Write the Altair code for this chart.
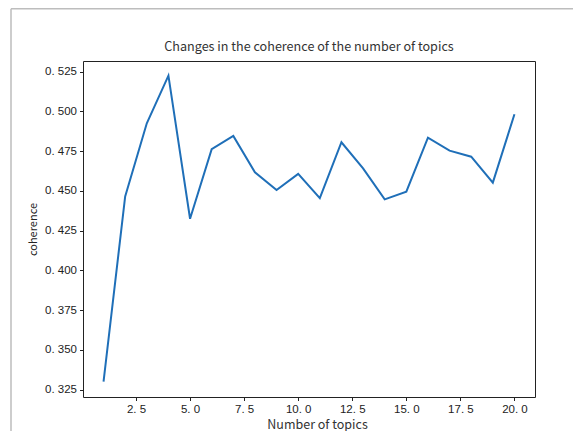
import altair as alt
import pandas as pd

topics = list(range(1, 21))
coherence = [0.3300, 0.4465, 0.4925, 0.5225, 0.4325, 0.4762, 0.4846, 0.4617, 0.4506,
             0.4607, 0.4455, 0.4806, 0.4642, 0.4447, 0.4495, 0.4835, 0.4753, 0.4715,
             0.4552, 0.4982]
y_ticks = [0.325, 0.350, 0.375, 0.400, 0.425, 0.450, 0.475, 0.500, 0.525]
x_ticks = [2.5, 5.0, 7.5, 10.0, 12.5, 15.0, 17.5, 20.0]

df = pd.DataFrame({"topics": topics, "coherence": coherence})

TICK_FONT = "Liberation Sans"
TEXT_FONT = "Noto Sans CJK SC"

line = alt.Chart(df).mark_line(color="#1f6fb8", strokeWidth=2).encode(
    x=alt.X(
        "topics:Q",
        scale=alt.Scale(domain=[0.05, 20.95], nice=False, zero=False),
        axis=alt.Axis(
            values=x_ticks,
            labelExpr="replace(format(datum.value, '.1f'), '.', '. ')",
            title="Number of topics",
            titleX=234,
            titleY=34,
            titleBaseline="bottom",
            titleFont=TEXT_FONT,
            titleFontSize=12.5,
            titleFontWeight="normal",
            titleColor="#333333",
        ),
    ),
    y=alt.Y(
        "coherence:Q",
        scale=alt.Scale(domain=[0.3204, 0.5317], nice=False, zero=False),
        axis=alt.Axis(
            values=y_ticks,
            labelExpr="replace(format(datum.value, '.3f'), '.', '. ')",
            title="coherence",
            titleAngle=270,
            titleX=-50,
            titleY=168,
            titleAlign="center",
            titleBaseline="middle",
            titleFont=TEXT_FONT,
            titleFontSize=11,
            titleFontWeight="normal",
            titleColor="#222222",
        ),
    ),
)

frame_data = alt.Data(values=[{"k": 1}])
left_border = alt.Chart(frame_data).mark_rule(color="#bdbdbd", strokeWidth=1.5).encode(
    x=alt.value(-72), y=alt.value(-52.3), y2=alt.value(372)
)
top_border = alt.Chart(frame_data).mark_rule(color="#bdbdbd", strokeWidth=1.5).encode(
    x=alt.value(-72), x2=alt.value(500), y=alt.value(-52.3)
)

chart = alt.layer(line, left_border, top_border).properties(
    width=452,
    height=336,
    title=alt.TitleParams(
        "Changes in the coherence of the number of topics",
        font=TEXT_FONT,
        fontSize=12.6,
        fontWeight="normal",
        color="#333333",
        anchor="middle",
        frame="group",
        offset=8,
        dy=54,
    ),
    autosize=alt.AutoSizeParams(type="none"),
    padding={"left": 75, "top": 53, "right": 38, "bottom": 34},
    background="white",
).configure_view(
    stroke="#222222", strokeWidth=1
).configure_axis(
    domain=False,
    grid=False,
    ticks=True,
    tickSize=3.5,
    tickColor="#222222",
    tickWidth=1,
    labelFont=TICK_FONT,
    labelFontSize=11.5,
    labelColor="#222222",
    labelPadding=2,
).configure_axisY(labelPadding=3).configure_axisX(labelPadding=3)

chart.save("out.html", embed_options={"renderer": "svg", "actions": False})
